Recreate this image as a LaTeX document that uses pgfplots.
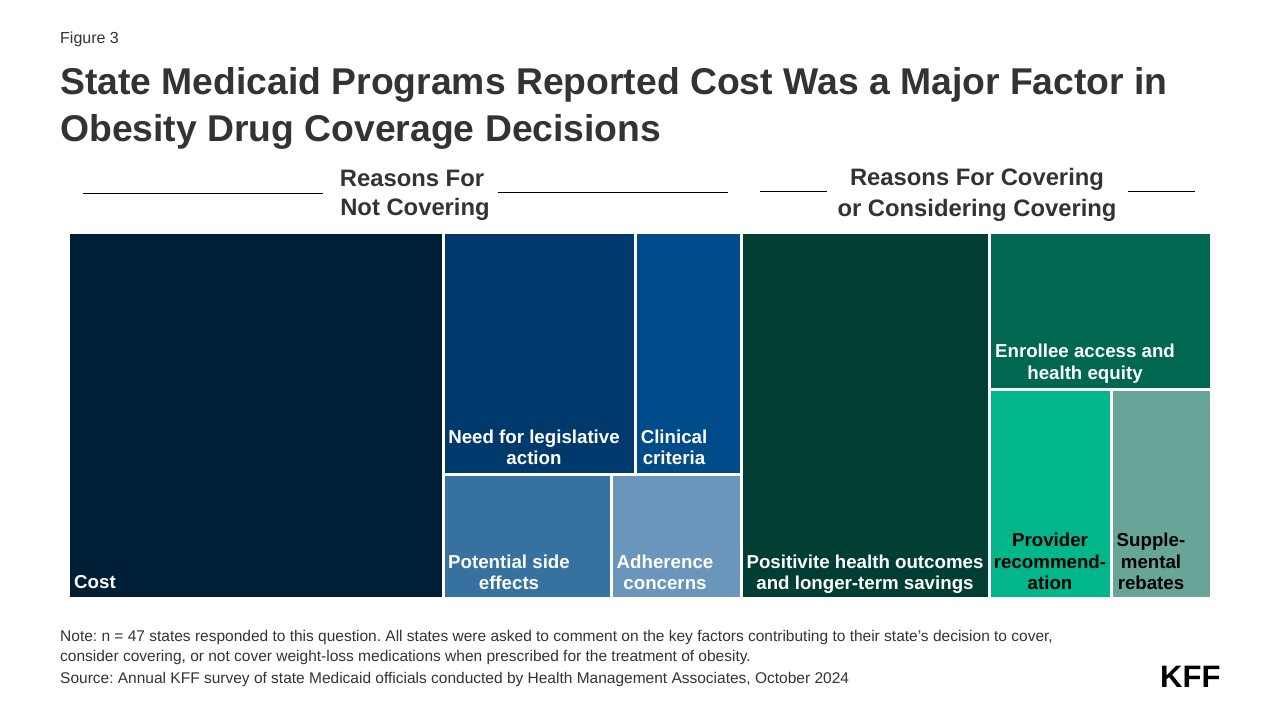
\documentclass[border=0pt]{standalone}
\usepackage{pgfplots}
\pgfplotsset{compat=1.18}
\usepackage{fontspec}
\setmainfont{Liberation Sans}
\frenchspacing

\definecolor{ink}{HTML}{333333}
\definecolor{cCost}{HTML}{001F36}
\definecolor{cLeg}{HTML}{003A6C}
\definecolor{cClin}{HTML}{004B8A}
\definecolor{cSide}{HTML}{36719F}
\definecolor{cAdh}{HTML}{6A96BB}
\definecolor{cPos}{HTML}{003D32}
\definecolor{cEnr}{HTML}{006750}
\definecolor{cProv}{HTML}{00B68A}
\definecolor{cSup}{HTML}{66A598}

\newcommand{\fsz}[1]{\fontsize{#1bp}{#1bp}\selectfont}
% one treemap cell: colour, x1, y1, x2, y2 (pixels, y down)
\newcommand{\cell}[5]{\addplot[fill=#1, draw=none] coordinates {(#2,#3) (#4,#3) (#4,#5) (#2,#5)} -- cycle;}

\begin{document}
\begin{tikzpicture}
\begin{axis}[
    width=1280bp, height=720bp,
    scale only axis,
    xmin=0, xmax=1280, ymin=0, ymax=720,
    y dir=reverse,
    hide axis,
    clip=false,
]
\addplot[draw=none] coordinates {(0,0) (1280,720)};

% reasons for not covering
\cell{cCost}{70}{234}{442}{597}
\cell{cLeg}{445}{234}{634}{473}
\cell{cClin}{637}{234}{740}{473}
\cell{cSide}{445}{476}{610}{597}
\cell{cAdh}{613}{476}{740}{597}
% reasons for covering
\cell{cPos}{743}{234}{988}{597}
\cell{cEnr}{991}{234}{1210}{388}
\cell{cProv}{991}{391}{1110}{597}
\cell{cSup}{1113}{391}{1210}{597}

% header rules
\addplot[black, line width=1bp] coordinates {(83,194) (323,194)};
\addplot[black, line width=1bp] coordinates {(498,193) (728,193)};
\addplot[black, line width=1bp] coordinates {(760,192) (827,192)};
\addplot[black, line width=1bp] coordinates {(1128,192) (1195,192)};

\begin{scope}[every node/.style={inner sep=0pt}]
\node[anchor=base west, text=ink] at (axis cs:60,44) {\fsz{16}Figure 3};
\node[anchor=base west, text=ink] at (axis cs:60,95) {\fsz{37.3}\bfseries State Medicaid Programs Reported Cost Was a Major Factor in};
\node[anchor=base west, text=ink] at (axis cs:60,142) {\fsz{37.3}\bfseries Obesity Drug Coverage Decisions};

\begin{scope}[every node/.append style={text=ink, font=\fsz{23.8}\bfseries, anchor=base}]
\node at (axis cs:412,187) {Reasons For};
\node at (axis cs:415,216) {Not Covering};
\node at (axis cs:977,186) {Reasons For Covering};
\node at (axis cs:977,217) {or Considering Covering};
\end{scope}

\begin{scope}[every node/.append style={text=white, font=\fsz{18.7}\bfseries, anchor=base}]
\node[anchor=base west] at (axis cs:74,589) {Cost};
\node at (axis cs:534,444) {Need for legislative};
\node at (axis cs:534,465) {action};
\node at (axis cs:674,444) {Clinical};
\node at (axis cs:674,465) {criteria};
\node at (axis cs:509,569) {Potential side};
\node at (axis cs:509,590) {effects};
\node at (axis cs:665,569) {Adherence};
\node at (axis cs:665,590) {concerns};
\node at (axis cs:865,569) {Positivite health outcomes};
\node at (axis cs:865,590) {and longer-term savings};
\node at (axis cs:1085,358) {Enrollee access and};
\node at (axis cs:1085,380) {health equity};
\node[text=black] at (axis cs:1050,547) {Provider};
\node[text=black] at (axis cs:1050,569) {recommend-};
\node[text=black] at (axis cs:1050,590) {ation};
\node[text=black] at (axis cs:1151,547) {Supple-};
\node[text=black] at (axis cs:1151,569) {mental};
\node[text=black] at (axis cs:1151,590) {rebates};
\end{scope}

\begin{scope}[every node/.append style={text=ink, font=\fsz{15.5}, anchor=base west}]
\node at (axis cs:60,642) {Note: n = 47 states responded to this question. All states were asked to comment on the key factors contributing to their state's decision to cover,};
\node at (axis cs:60,662) {consider covering, or not cover weight-loss medications when prescribed for the treatment of obesity.};
\node at (axis cs:60,684) {Source: Annual KFF survey of state Medicaid officials conducted by Health Management Associates, October 2024};
\end{scope}

\node[anchor=base west, text=black] at (axis cs:1160,688) {\fsz{31}\bfseries KFF};
\end{scope}
\end{axis}
\end{tikzpicture}
\end{document}
